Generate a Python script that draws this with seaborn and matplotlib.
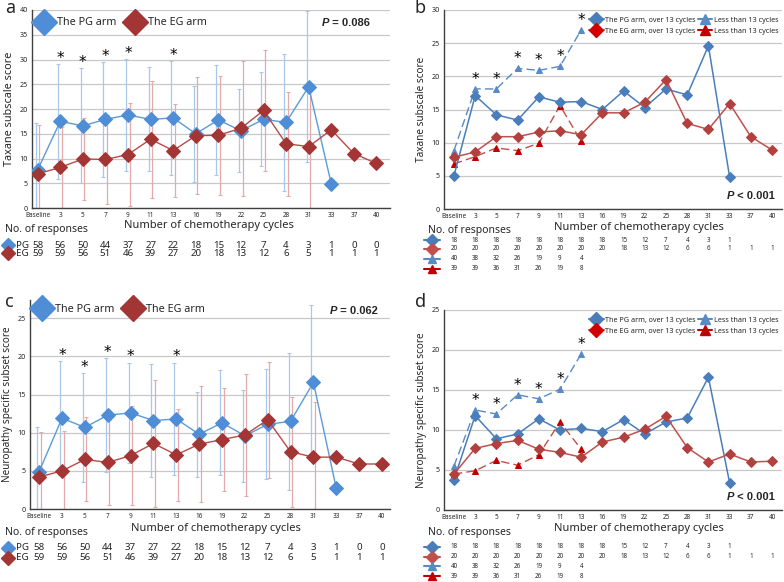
import numpy as np
import pandas as pd
import matplotlib
matplotlib.use("Agg")
import matplotlib.pyplot as plt
import seaborn as sns
from matplotlib.lines import Line2D

nan = np.nan

cycles = ['Baseline', '3', '5', '7', '9', '11', '13', '16', '19', '22',
          '25', '28', '31', '33', '37', '40']

# ---- panel a: Taxane subscale score (mean, SD) ----
a_pg_mean = [7.7, 17.5, 16.6, 17.9, 18.8, 17.9, 18.2, 15.0, 17.8, 15.6, 17.9, 17.3, 24.5, 4.9, nan, nan]
a_pg_sd = [9.4, 11.6, 11.6, 11.6, 11.3, 10.5, 11.5, 9.7, 11.1, 8.4, 9.5, 13.8, 15.2, 0, nan, nan]
a_eg_mean = [6.9, 8.2, 9.9, 9.8, 10.8, 13.9, 11.6, 14.6, 14.7, 16.1, 19.7, 13.0, 12.4, 15.8, 11.0, 9.0]
a_eg_sd = [9.8, 8.1, 8.3, 9.0, 10.4, 11.8, 9.4, 11.8, 12.0, 13.6, 12.2, 10.5, 12.4, 0, 0, 0]
a_sig = ['3', '5', '7', '9', '13']

# ---- panel c: Neuropathy specific subset score (mean, SD) ----
c_pg_mean = [4.9, 11.9, 10.7, 12.3, 12.6, 11.6, 11.8, 9.8, 11.3, 9.6, 11.1, 11.5, 16.6, 2.7, nan, nan]
c_pg_sd = [5.8, 7.5, 7.1, 7.5, 6.6, 7.4, 7.4, 5.6, 6.9, 6.0, 7.2, 9.0, 10.1, 0, nan, nan]
c_eg_mean = [4.2, 5.0, 6.5, 6.1, 7.0, 8.6, 7.1, 8.5, 9.1, 9.7, 11.7, 7.5, 6.8, 6.8, 5.9, 5.9]
c_eg_sd = [5.9, 5.2, 5.5, 5.6, 6.5, 8.3, 6.0, 7.6, 6.8, 8.0, 7.6, 7.2, 7.2, 0, 0, 0]
c_sig = ['3', '5', '7', '9', '13']

# responses (panels a, c)
n_pg = [58, 56, 50, 44, 37, 27, 22, 18, 15, 12, 7, 4, 3, 1, 0, 0]
n_eg = [59, 59, 56, 51, 46, 39, 27, 20, 18, 13, 12, 6, 5, 1, 1, 1]

# ---- panel b: Taxane subscale, by duration ----
b_pg_over = [5.0, 17.1, 14.2, 13.4, 16.9, 16.1, 16.2, 15.0, 17.8, 15.3, 18.1, 17.2, 24.6, 4.8, nan, nan]
b_eg_over = [7.8, 8.6, 10.9, 10.9, 11.6, 11.8, 11.2, 14.5, 14.5, 16.1, 19.5, 12.9, 12.0, 15.9, 10.9, 8.9]
b_pg_less = [8.8, 18.1, 18.1, 21.2, 20.9, 21.5, 27.0, nan, nan, nan, nan, nan, nan, nan, nan, nan]
b_eg_less = [6.8, 7.9, 9.2, 8.8, 9.9, 15.6, 10.2, nan, nan, nan, nan, nan, nan, nan, nan, nan]
b_sig = ['3', '5', '7', '9', '11', '13']

# ---- panel d: Neuropathy specific subset, by duration ----
d_pg_over = [3.8, 11.8, 8.9, 9.5, 11.4, 10.0, 10.2, 9.8, 11.3, 9.5, 11.0, 11.5, 16.6, 3.4, nan, nan]
d_eg_over = [4.5, 7.7, 8.3, 8.7, 7.6, 7.2, 6.6, 8.5, 9.1, 10.1, 11.7, 7.8, 6.0, 7.0, 6.0, 6.1]
d_pg_less = [5.5, 12.5, 12.0, 14.4, 13.9, 15.1, 19.5, nan, nan, nan, nan, nan, nan, nan, nan, nan]
d_eg_less = [4.5, 4.9, 6.2, 5.6, 6.9, 11.0, 7.6, nan, nan, nan, nan, nan, nan, nan, nan, nan]
d_sig = ['3', '5', '7', '9', '11', '13']

# responses (panels b, d)
n_pg_over = [18, 18, 18, 18, 18, 18, 18, 18, 15, 12, 7, 4, 3, 1]
n_eg_over = [20, 20, 20, 20, 20, 20, 20, 20, 18, 13, 12, 6, 6, 1, 1, 1]
n_pg_less = [40, 38, 32, 26, 19, 9, 4]
n_eg_less = [39, 39, 36, 31, 26, 19, 8]

# ---------------------------------------------------------------
sns.set_theme(style="white")
plt.rcParams['font.family'] = ['Noto Sans', 'DejaVu Sans']

W, H = 784, 582
fig = plt.figure(figsize=(W / 100, H / 100), dpi=100)


def fx(px):
    return px / W


def fy(py):
    return 1 - py / H


def add_ax(l, t, r, b):
    return fig.add_axes([fx(l), fy(b), fx(r - l), (b - t) / H])


axa = add_ax(32, 10, 390, 208)
axb = add_ax(444, 10, 782, 209)
axc = add_ax(30, 300, 390, 509)
axd = add_ax(444, 310, 782, 510)

PG_D = '#4F8ED6'
PG_L = '#5B9BD5'
EG_D = '#A33634'
EG_L = '#B94A48'
PG_E = '#A8C8E8'
EG_E = '#E4AAAA'
B_PG = '#4A7EBB'
B_EG = '#C0504D'
B_EGD = '#B2403E'
T_PG = '#5A8AC6'
T_EG = '#C00000'

xs = np.arange(len(cycles))


def style(ax, ymax, ystep, xlim, ylabel, yl_size, yl_weight):
    ax.set_xlim(*xlim)
    ax.set_ylim(0, ymax)
    ax.set_yticks(np.arange(0, ymax + 0.01, ystep))
    ax.set_xticks(xs)
    ax.set_xticklabels(cycles, fontsize=4.6, fontweight='bold')
    for lab in ax.get_yticklabels():
        lab.set_fontsize(5.2)
        lab.set_fontweight('bold')
    ax.tick_params(axis='y', length=0, pad=3)
    ax.tick_params(axis='x', length=0, pad=3)
    ax.yaxis.grid(True, color='#C8C8C8', lw=0.9)
    ax.xaxis.grid(False)
    ax.set_axisbelow(True)
    for s in ['top', 'right']:
        ax.spines[s].set_visible(False)
    for s in ['left', 'bottom']:
        ax.spines[s].set_color('#404040')
        ax.spines[s].set_linewidth(1.0)
    ax.set_xlabel('Number of chemotherapy cycles', fontsize=8)
    ax.set_ylabel(ylabel, fontsize=yl_size, fontweight=yl_weight)


def series(ax, vals, color, mcolor, marker, ms, ls='-', lw=1.0, z=3):
    df = pd.DataFrame({'x': xs, 'y': vals}).dropna()
    sns.lineplot(data=df, x='x', y='y', ax=ax, color=color, marker=marker,
                 markersize=ms, markerfacecolor=mcolor, markeredgecolor=mcolor,
                 linestyle=ls, linewidth=lw, sort=False, legend=False, zorder=z,
                 errorbar=None)


def ebars(ax, mean, sd, color, dx):
    m = np.array(mean, float)
    s = np.array(sd, float)
    ok = ~np.isnan(m) & (np.nan_to_num(s) > 0)
    ax.errorbar(xs[ok] + dx, m[ok], yerr=s[ok], fmt='none', ecolor=color,
                elinewidth=0.9, capsize=1.5, capthick=0.8, zorder=2)


def stars(ax, sig, ref, off):
    for c in sig:
        i = cycles.index(c)
        ax.annotate('*', (i, ref[i]), xytext=(0, off), textcoords='offset points',
                    ha='center', va='center', fontsize=11, color='black',
                    fontfamily='DejaVu Sans', annotation_clip=False)


def pval(ax, x, y, rest):
    t = ax.text(x, y, 'P', transform=ax.transAxes, fontsize=8, fontweight='bold',
                style='italic', va='center', ha='left', family='Liberation Sans')
    ax.annotate(rest, xy=(1, 0.5), xycoords=t, va='center', ha='left',
                fontsize=8, fontweight='bold', family='Liberation Sans')


def legend_ac(ax, y):
    ax.legend(handles=[Line2D([], [], marker='D', ls='none', ms=13, color=PG_D),
                       Line2D([], [], marker='D', ls='none', ms=13, color=EG_D)],
              labels=['The PG arm', 'The EG arm'], loc='center left',
              bbox_to_anchor=(0.0, y), ncol=2, frameon=False, fontsize=7.8,
              handlelength=1.2, handletextpad=0.6, columnspacing=1.1, borderaxespad=0.1)


# ---------------- panel a ----------------
ebars(axa, a_pg_mean, a_pg_sd, PG_E, -0.09)
ebars(axa, a_eg_mean, a_eg_sd, EG_E, 0.07)
series(axa, a_pg_mean, PG_L, PG_D, 'D', 7)
series(axa, a_eg_mean, EG_L, EG_D, 'D', 7)
style(axa, 40, 5, (-0.25, 15.6), 'Taxane subscale score', 7.8, 'bold')
stars(axa, a_sig, np.array(a_pg_mean) + np.array(a_pg_sd), 4)
pval(axa, 0.81, 0.935, ' = 0.086')
legend_ac(axa, 0.935)

# ---------------- panel c ----------------
ebars(axc, c_pg_mean, c_pg_sd, PG_E, -0.09)
ebars(axc, c_eg_mean, c_eg_sd, EG_E, 0.07)
series(axc, c_pg_mean, PG_L, PG_D, 'D', 7)
series(axc, c_eg_mean, EG_L, EG_D, 'D', 7)
style(axc, 27.4, 5, (-0.4, 15.35), 'Neuropathy specific subset score', 7.2, 'normal')
stars(axc, c_sig, np.array(c_pg_mean) + np.array(c_pg_sd), 4)
pval(axc, 0.833, 0.947, ' = 0.062')
legend_ac(axc, 0.955)


# ---------------- panels b, d ----------------
def panel_bd(ax, pg_over, eg_over, pg_less, eg_less, ymax, sig, ylabel):
    series(ax, pg_less, T_PG, T_PG, '^', 4.5, ls=(0, (6, 3)), lw=1.0, z=3)
    series(ax, eg_less, B_EG, T_EG, '^', 4.5, ls=(0, (6, 3)), lw=1.0, z=3)
    series(ax, pg_over, B_PG, B_PG, 'D', 5.2, lw=1.1, z=4)
    series(ax, eg_over, B_EG, B_EGD, 'D', 5.2, lw=1.1, z=4)
    style(ax, ymax, 5, (-0.47, 15.47), ylabel, 7.2, 'normal')
    stars(ax, sig, pg_less, 7)
    hs = [Line2D([], [], color=B_PG, marker='D', ms=7, lw=1.5),
          Line2D([], [], color=B_EG, marker='D', ms=7, lw=1.5,
                 markerfacecolor='#D00000', markeredgecolor='#D00000'),
          Line2D([], [], color=T_PG, marker='^', ms=7, lw=1.5),
          Line2D([], [], color=T_EG, marker='^', ms=7, lw=1.5)]
    ax.legend(handles=hs, labels=['The PG arm, over 13 cycles', 'The EG arm, over 13 cycles',
                                  'Less than 13 cycles', 'Less than 13 cycles'],
              loc='upper right', bbox_to_anchor=(1.0, 0.985), ncol=2, frameon=False,
              fontsize=5.2, handlelength=2.0, handletextpad=0.2, columnspacing=0.3,
              labelspacing=0.55, borderaxespad=0.1)
    pval(ax, 0.837, 0.065, ' < 0.001')


panel_bd(axb, b_pg_over, b_eg_over, b_pg_less, b_eg_less, 30, b_sig, 'Taxane subscale score')
panel_bd(axd, d_pg_over, d_eg_over, d_pg_less, d_eg_less, 25, d_sig, 'Neuropathy specific subset score')

# label positions
for ax, (lx, ly), yx in [(axa, (0.494, -0.09), -0.062), (axb, (0.577, -0.095), -0.068),
                         (axc, (0.517, -0.091), -0.062), (axd, (0.577, -0.09), -0.068)]:
    ax.xaxis.set_label_coords(lx, ly)
    ax.xaxis.label.set_va('center')
    ax.yaxis.set_label_coords(yx, 0.5)
    ax.yaxis.label.set_va('center')

# panel letters
for txt, x, y in [('a', 5, 8), ('b', 415, 8), ('c', 5, 302), ('d', 415, 302)]:
    fig.text(fx(x), fy(y), txt, fontsize=13, fontweight='bold', va='center', ha='left')


# response tables
def col_x(ax, i):
    return fig.transFigure.inverted().transform(ax.transData.transform((i, 0)))[0]


def table_ac(ax, y_title, y_rows):
    fig.text(fx(5), fy(y_title), 'No. of responses', fontsize=7.5, va='center', ha='left')
    for (lab, ns, col), yr in zip([('PG', n_pg, PG_D), ('EG', n_eg, EG_D)], y_rows):
        fig.add_artist(Line2D([fx(8)], [fy(yr)], marker='D', ms=7.5, color=col, ls='none',
                              transform=fig.transFigure))
        fig.text(fx(16), fy(yr), lab, fontsize=7, fontweight='bold', va='center', ha='left')
        for i, n in enumerate(ns):
            fig.text(col_x(ax, i), fy(yr), str(n), fontsize=7, fontweight='bold',
                     va='center', ha='center')


def table_bd(ax, y_title, y_rows):
    fig.text(fx(428), fy(y_title), 'No. of responses', fontsize=7.5, va='center', ha='left')
    specs = [(n_pg_over, B_PG, 'D'), (n_eg_over, B_EG, 'D'),
             (n_pg_less, T_PG, '^'), (n_eg_less, T_EG, '^')]
    for (ns, col, mk), yr in zip(specs, y_rows):
        fig.add_artist(Line2D([fx(424), fx(440)], [fy(yr), fy(yr)], color=col, lw=1.5,
                              transform=fig.transFigure))
        fig.add_artist(Line2D([fx(432)], [fy(yr)], marker=mk, ms=6, color=col, ls='none',
                              transform=fig.transFigure))
        for i, n in enumerate(ns):
            fig.text(col_x(ax, i), fy(yr), str(n), fontsize=4.5, fontweight='bold',
                     va='center', ha='center')


table_ac(axa, 230, [245, 253])
table_ac(axc, 533, [548, 558])
table_bd(axb, 231, [240, 249, 259, 269])
table_bd(axd, 533, [547, 557, 566, 576])

fig.savefig('out.png', dpi=100)
